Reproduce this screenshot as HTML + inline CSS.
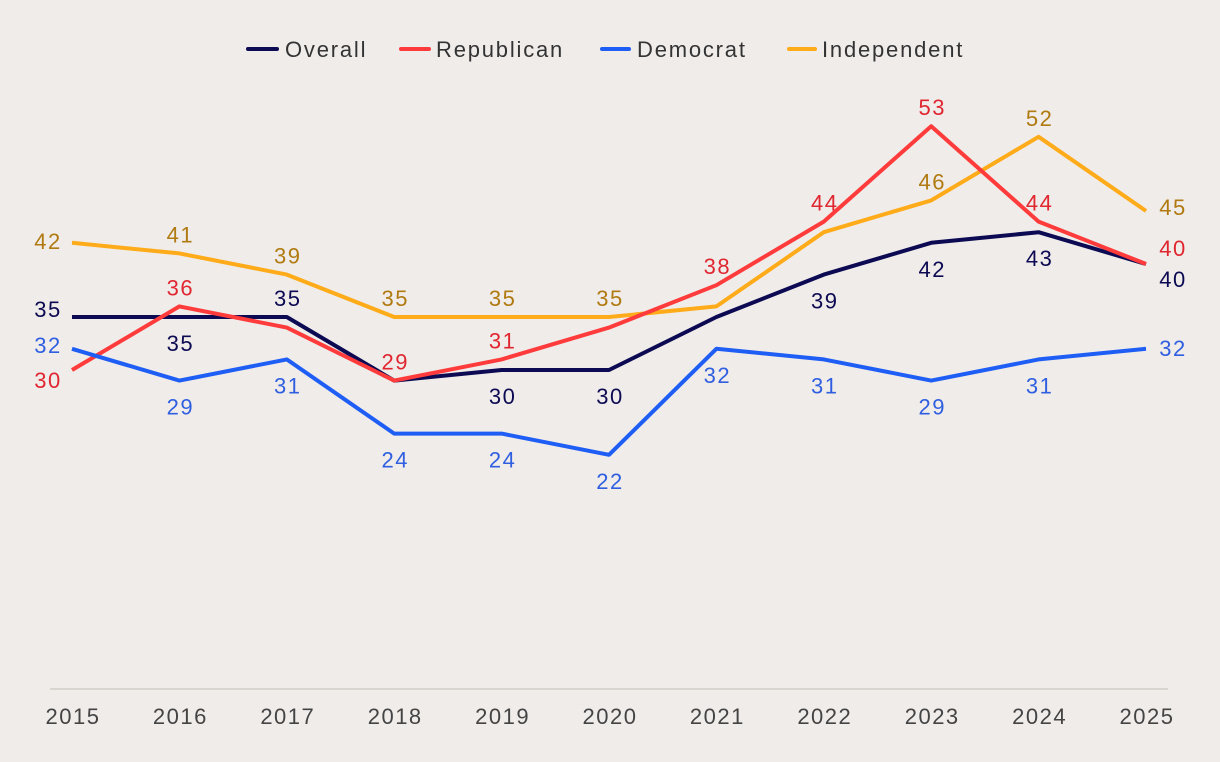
<!DOCTYPE html>
<html><head><meta charset="utf-8"><style>
body{margin:0;background:#f0ecea;}
svg{display:block;font-family:"Liberation Sans",sans-serif;}
</style></head><body>
<svg id="chart" width="1220" height="762">
<rect width="1220" height="762" fill="#f0ecea"/>
<g id="legend" font-size="22" letter-spacing="1.8" fill="#333">
<g><line x1="248" x2="277" y1="49" y2="49" stroke="#0c0a52" stroke-width="4" stroke-linecap="round"/><text x="285" y="57">Overall</text></g>
<g><line x1="401" x2="429" y1="49" y2="49" stroke="#ff3b3b" stroke-width="4" stroke-linecap="round"/><text x="436" y="57">Republican</text></g>
<g><line x1="602" x2="629" y1="49" y2="49" stroke="#1f5ef5" stroke-width="4" stroke-linecap="round"/><text x="637" y="57">Democrat</text></g>
<g><line x1="789" x2="815" y1="49" y2="49" stroke="#ffab1a" stroke-width="4" stroke-linecap="round"/><text x="822" y="57">Independent</text></g>
</g>
<line x1="50" x2="1168" y1="689" y2="689" stroke="#cfcbc8" stroke-width="1.5"/>
</svg>
<script>
const years=["2015","2016","2017","2018","2019","2020","2021","2022","2023","2024","2025"];
const overall=[35,35,35,29,30,30,35,39,42,43,40];
const republican=[30,36,34,29,31,34,38,44,53,44,40];
const democrat=[32,29,31,24,24,22,32,31,29,31,32];
const independent=[42,41,39,35,35,35,36,43,46,52,45];
const overallLbl=["l","b","a","","b","b","","b","b","b","r"];
const republicanLbl=["lb","a","","a","a","","a","a","a","a","r"];
const democratLbl=["l","b","b","b","b","b","b","b","b","b","r"];
const independentLbl=["l","a","a","a","a","a","","","a","a","r"];
const NS="http://www.w3.org/2000/svg";
const svg=document.getElementById('chart');
function xs(i){return 72+i*107.4;}
function ys(v){return 688-v*10.6;}
years.forEach((y,i)=>{
 const t=document.createElementNS(NS,'text');
 
 
 t.setAttribute('x',xs(i)+1);t.setAttribute('y',724);t.setAttribute('font-size','22');
 t.setAttribute('letter-spacing','1.5');
 t.setAttribute('fill','#444');t.setAttribute('text-anchor','middle');t.textContent=y;svg.appendChild(t);
});
const series=[
 ["independent",independent,independentLbl,"#ffab1a","#b07a10"],
 ["overall",overall,overallLbl,"#0c0a52","#0c0a52"],
 ["republican",republican,republicanLbl,"#ff3b3b","#e0262f"],
 ["democrat",democrat,democratLbl,"#1f5ef5","#2f5fe0"]
];
series.forEach(([name,vals,lbls,col,tcol])=>{
 const p=document.createElementNS(NS,'polyline');
 
 
 p.setAttribute('points',vals.map((v,i)=>xs(i)+','+ys(v)).join(' '));
 p.setAttribute('fill','none');p.setAttribute('stroke',col);p.setAttribute('stroke-width','4');
 p.setAttribute('stroke-linejoin','round');
 svg.appendChild(p);
});
series.forEach(([name,vals,lbls,col,tcol])=>{
 vals.forEach((v,i)=>{
  const m=lbls[i]; if(!m) return;
  let x=xs(i),y=ys(v),anchor='middle';
  if(m==='a'){y-=11;}
  else if(m==='b'){y+=34;}
  else if(m==='l'){x-=25;y+=(name==='overall'?0:name==='democrat'?4:6);}
  else if(m==='lb'){x-=25;y+=18;}
  else if(m==='r'){x+=26;y+=(name==='overall'?23:name==='republican'?-8:name==='democrat'?7:4);}
  const t=document.createElementNS(NS,'text');
  
  
  t.setAttribute('x',x+1);t.setAttribute('y',y);t.setAttribute('font-size','22');
  t.setAttribute('letter-spacing','1.5');
  t.setAttribute('fill',tcol);t.setAttribute('text-anchor',anchor);t.textContent=v;
  svg.appendChild(t);
 });
});
</script>
</body></html>
